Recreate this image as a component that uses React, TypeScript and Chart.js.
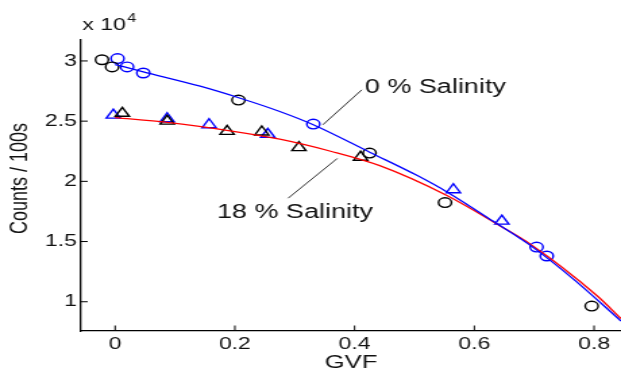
import { useEffect, useRef } from 'react';
import { Chart, registerables } from 'chart.js';

Chart.register(...registerables);

// ---- axes ----
const X_TICKS = [0, 0.2, 0.4, 0.6, 0.8];
const X_TICK_LABELS = ['0', '0.2', '0.4', '0.6', '0.8'];
const Y_TICKS = [1, 1.5, 2, 2.5, 3];
const Y_TICK_LABELS = ['1', '1.5', '2', '2.5', '3'];
const X_MIN = -0.057;
const X_MAX = 0.845;
const Y_MIN = 0.757;
const Y_MAX = 3.174;
const X_TITLE = 'GVF';
const Y_TITLE = 'Counts / 100s';

// ---- fitted curves (counts x 10^4) ----
const FIT0_GVF = [0, 0.047, 0.142, 0.209, 0.275, 0.331, 0.426, 0.504, 0.555, 0.631, 0.693, 0.765, 0.845];
const FIT0_COUNTS = [2.97, 2.91, 2.79, 2.69, 2.58, 2.47, 2.24, 2.05, 1.91, 1.67, 1.47, 1.19, 0.84];
const FIT18_GVF = [0, 0.087, 0.192, 0.275, 0.36, 0.442, 0.555, 0.643, 0.693, 0.805, 0.845];
const FIT18_COUNTS = [2.53, 2.49, 2.42, 2.35, 2.25, 2.13, 1.88, 1.63, 1.48, 1.05, 0.86];

// ---- measured points ----
const CIRC_BLACK_GVF = [-0.022, -0.005, 0.206, 0.425, 0.551, 0.796];
const CIRC_BLACK_COUNTS = [3.01, 2.95, 2.675, 2.235, 1.824, 0.964];
const CIRC_BLUE_GVF = [0.004, 0.02, 0.047, 0.331, 0.704, 0.721];
const CIRC_BLUE_COUNTS = [3.02, 2.95, 2.9, 2.476, 1.454, 1.38];
const TRI_BLACK_GVF = [0.012, 0.087, 0.187, 0.245, 0.307, 0.41];
const TRI_BLACK_COUNTS = [2.565, 2.5, 2.415, 2.41, 2.28, 2.2];
const TRI_BLUE_GVF = [-0.003, 0.087, 0.157, 0.255, 0.565, 0.646];
const TRI_BLUE_COUNTS = [2.55, 2.52, 2.47, 2.39, 1.93, 1.67];

// ---- annotations ----
const LABEL_0 = '0 % Salinity';
const LABEL_18 = '18 % Salinity';
const EXPONENT_BASE = 'x 10';
const EXPONENT = '4';

const ANNOTATIONS = [
  { text: LABEL_0, at: [0.417, 2.78], from: [0.347, 2.47], to: [0.412, 2.76] },
  { text: LABEL_18, at: [0.17, 1.745], from: [0.289, 1.86], to: [0.371, 2.19] },
];

const W = 621;
const H = 370;
const STRETCH = 1.35;
const FONT = "'Liberation Sans', Arial, Helvetica, sans-serif";

const zip = (xs: number[], ys: number[]) => xs.map((x, i) => ({ x, y: ys[i] }));

// let the plot area run to the right edge of the canvas (axis is cut there)
const fullWidth = {
  id: 'fullWidth',
  afterLayout(chart: any) {
    const xs = chart.scales.x;
    const ca = chart.chartArea;
    if (ca.right < chart.width) {
      ca.right = chart.width;
      ca.width = ca.right - ca.left;
      xs.right = chart.width;
      xs.width = xs.right - xs.left;
      xs.configure();
    }
  },
};

const inwardTicks = {
  id: 'inwardTicks',
  afterDraw(chart: any) {
    const { ctx, chartArea, scales } = chart;
    ctx.save();
    ctx.strokeStyle = '#000';
    ctx.lineWidth = 1;
    ctx.beginPath();
    scales.x.ticks.forEach((t: any) => {
      const px = scales.x.getPixelForValue(t.value);
      ctx.moveTo(px, chartArea.bottom);
      ctx.lineTo(px, chartArea.bottom - 5.5);
    });
    scales.y.ticks.forEach((t: any) => {
      const py = scales.y.getPixelForValue(t.value);
      ctx.moveTo(chartArea.left, py);
      ctx.lineTo(chartArea.left + 5, py);
    });
    ctx.stroke();
    ctx.restore();
  },
};

const annotate = {
  id: 'annotate',
  afterDraw(chart: any) {
    const { ctx, chartArea, scales } = chart;
    const px = (v: number) => scales.x.getPixelForValue(v);
    const py = (v: number) => scales.y.getPixelForValue(v);
    ctx.save();
    ctx.strokeStyle = '#333';
    ctx.lineWidth = 1;
    ANNOTATIONS.forEach((a) => {
      ctx.beginPath();
      ctx.moveTo(px(a.from[0]), py(a.from[1]));
      ctx.lineTo(px(a.to[0]), py(a.to[1]));
      ctx.stroke();
    });
    ctx.fillStyle = '#111';
    ctx.textBaseline = 'middle';
    ctx.textAlign = 'left';
    ctx.font = `20px ${FONT}`;
    ANNOTATIONS.forEach((a) => {
      ctx.fillText(a.text, px(a.at[0]), py(a.at[1]));
    });
    // exponent label
    ctx.font = `17px ${FONT}`;
    const bx = chartArea.left + 1;
    const by = chartArea.top - 15;
    ctx.fillText(EXPONENT_BASE, bx, by);
    const w = ctx.measureText(EXPONENT_BASE).width;
    ctx.font = `12px ${FONT}`;
    ctx.fillText(EXPONENT, bx + w + 1, by - 6);
    // y-axis title
    ctx.save();
    ctx.translate(14.8, (chartArea.top + chartArea.bottom) / 2 - 7);
    ctx.rotate(-Math.PI / 2);
    ctx.textAlign = 'center';
    ctx.font = `18px ${FONT}`;
    ctx.fillText(Y_TITLE, 0, 0);
    ctx.restore();
    ctx.restore();
  },
};

const noPadding = (axis: any) => {
  axis.paddingLeft = 0;
  axis.paddingRight = 0;
  axis.paddingTop = 0;
  axis.paddingBottom = 0;
};

export default function App() {
  const ref = useRef<HTMLCanvasElement>(null);

  useEffect(() => {
    const canvas = ref.current;
    if (!canvas) return;
    const markerBase = {
      showLine: false,
      borderWidth: 1.4,
      pointBackgroundColor: 'rgba(0,0,0,0)',
      backgroundColor: 'rgba(0,0,0,0)',
    };
    const chart = new Chart(canvas, {
      type: 'scatter',
      data: {
        datasets: [
          {
            label: 'fit 0%',
            data: zip(FIT0_GVF, FIT0_COUNTS),
            showLine: true,
            borderColor: '#0000ff',
            borderWidth: 1.3,
            pointRadius: 0,
            cubicInterpolationMode: 'monotone',
          },
          {
            label: 'fit 18%',
            data: zip(FIT18_GVF, FIT18_COUNTS),
            showLine: true,
            borderColor: '#ff0000',
            borderWidth: 1.3,
            pointRadius: 0,
            cubicInterpolationMode: 'monotone',
          },
          {
            ...markerBase,
            label: 'circles black',
            data: zip(CIRC_BLACK_GVF, CIRC_BLACK_COUNTS),
            pointStyle: 'circle',
            pointRadius: 4.8,
            borderColor: '#000',
            pointBorderColor: '#000',
          },
          {
            ...markerBase,
            label: 'circles blue',
            data: zip(CIRC_BLUE_GVF, CIRC_BLUE_COUNTS),
            pointStyle: 'circle',
            pointRadius: 4.8,
            borderColor: '#0000ff',
            pointBorderColor: '#0000ff',
          },
          {
            ...markerBase,
            label: 'triangles black',
            data: zip(TRI_BLACK_GVF, TRI_BLACK_COUNTS),
            pointStyle: 'triangle',
            pointRadius: 6,
            borderColor: '#000',
            pointBorderColor: '#000',
          },
          {
            ...markerBase,
            label: 'triangles blue',
            data: zip(TRI_BLUE_GVF, TRI_BLUE_COUNTS),
            pointStyle: 'triangle',
            pointRadius: 6,
            borderColor: '#0000ff',
            pointBorderColor: '#0000ff',
          },
        ],
      } as any,
      options: {
        animation: false,
        responsive: false,
        devicePixelRatio: 1,
        events: [],
        layout: { padding: { top: 40, left: 0, right: 0, bottom: 0 } },
        plugins: { legend: { display: false }, tooltip: { enabled: false } },
        scales: {
          x: {
            type: 'linear',
            min: X_MIN,
            max: X_MAX,
            grid: { display: false, drawTicks: false },
            border: { display: true, color: '#000', width: 1.3 },
            afterBuildTicks: (axis: any) => {
              axis.ticks = X_TICKS.map((value) => ({ value }));
            },
            afterFit: (axis: any) => {
              axis.height = 39;
              noPadding(axis);
            },
            ticks: {
              color: '#111',
              padding: 3,
              maxRotation: 0,
              font: { family: FONT, size: 17 },
              callback: (_v: any, i: number) => X_TICK_LABELS[i],
            },
            title: {
              display: true,
              text: X_TITLE,
              color: '#111',
              font: { family: FONT, size: 19, lineHeight: 1 },
              padding: { top: 0, bottom: -2 },
            },
          },
          y: {
            type: 'linear',
            min: Y_MIN,
            max: Y_MAX,
            grid: { display: false, drawTicks: false },
            border: { display: true, color: '#000', width: 1.3 },
            afterBuildTicks: (axis: any) => {
              axis.ticks = Y_TICKS.map((value) => ({ value }));
            },
            afterFit: (axis: any) => {
              axis.width = 60;
              noPadding(axis);
            },
            ticks: {
              color: '#111',
              padding: 3,
              font: { family: FONT, size: 17 },
              callback: (_v: any, i: number) => Y_TICK_LABELS[i],
            },
            title: { display: false },
          },
        },
      } as any,
      plugins: [fullWidth, inwardTicks, annotate],
    });
    return () => chart.destroy();
  }, []);

  return (
    <div
      style={{
        position: 'fixed',
        left: 0,
        top: 0,
        width: W,
        height: H,
        overflow: 'hidden',
        background: '#fff',
      }}
    >
      <canvas
        ref={ref}
        width={Math.round(W / STRETCH)}
        height={H}
        style={{ width: `${W}px`, height: `${H}px`, display: 'block' }}
      />
    </div>
  );
}
